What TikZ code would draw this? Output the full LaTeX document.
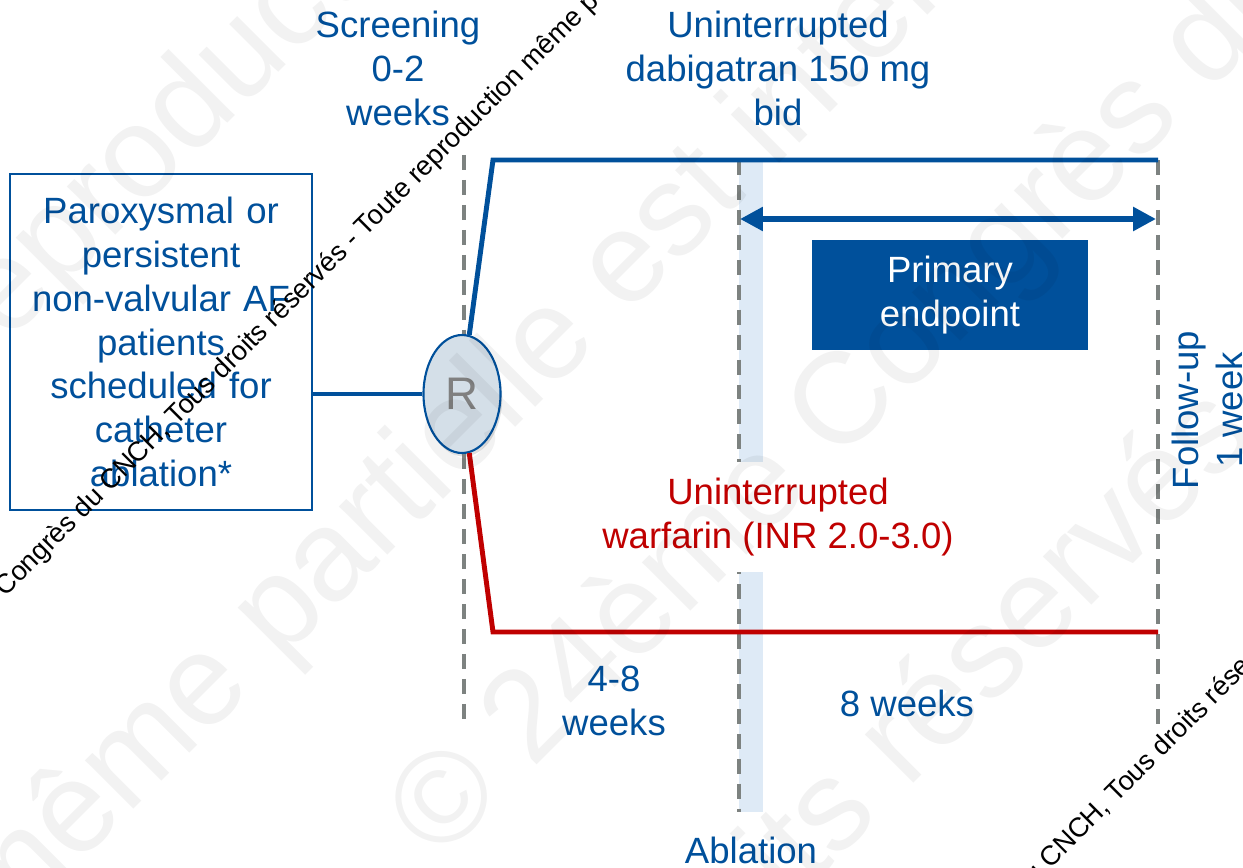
\documentclass[tikz,border=0pt]{standalone}
\usepackage{fontspec}
\setmainfont{Liberation Sans}
\usetikzlibrary{arrows.meta,shapes.geometric,shadows}

\definecolor{trialblue}{RGB}{0,80,155}
\definecolor{trialred}{RGB}{192,0,0}
\definecolor{dashgray}{RGB}{125,130,128}
\definecolor{barblue}{RGB}{222,234,246}
\definecolor{rfill}{RGB}{212,223,232}
\definecolor{rgray}{RGB}{128,128,128}

\tikzset{
    lbl/.style={text=trialblue, font=\fontsize{20.8}{25}\selectfont, align=center, inner sep=0pt},
    guide/.style={dashgray, line width=2.3pt, dash pattern=on 8.5pt off 5.7pt},
    arm/.style={line width=2.8pt},
    wmark/.style={rotate=45, anchor=base west, inner sep=0pt, text=black, font=\fontsize{15.5}{18}\selectfont},
    bigmark/.style={rotate=45, anchor=base west, inner sep=0pt, text=black, text opacity=0.05, font=\fontsize{73.7}{80}\selectfont},
}

\begin{document}
\begin{tikzpicture}[x=0.02cm,y=-0.02cm]
    \def\pxu{0.02cm}
    \useasboundingbox (0,0) rectangle (1243,868);
    \begin{scope}
    \clip (0,0) rectangle (1243,868);
    % ablation bar and time marks
    \fill[barblue] (739,160) rectangle (763,812);
    \foreach \x/\ytop/\ybot in {464/155/728, 739/160/812, 1158/160/728}{
        \draw[guide] (\x,\ytop) -- (\x,\ybot);
    }
    % patients and randomisation
    \node[lbl, draw=trialblue, line width=1.1pt, fill=white, minimum width=302*\pxu, minimum height=336*\pxu, text width=290*\pxu] (pat) at (161,342)
        {Paroxysmal or\\persistent\\non-valvular AF\\patients\\scheduled for\\catheter\\ablation*};
    \coordinate (dabi-c) at (493,160);
    \coordinate (dabi-e) at (1158,160);
    \coordinate (warf-c) at (493,632);
    \coordinate (warf-e) at (1158,632);
    \node[ellipse, draw=trialblue, line width=1.2pt, fill=rfill, minimum width=77*\pxu, minimum height=118*\pxu, inner sep=0pt, text=rgray, font=\fontsize{26}{30}\selectfont,
        drop shadow={opacity=0.25, shadow xshift=1pt, shadow yshift=-2pt}] (rnd) at (462,394) {R};
    \draw[trialblue, line width=2pt] (pat.east |- rnd.west) -- (rnd.west);
    \draw[arm, trialblue] (rnd.83) -- (dabi-c) -- (dabi-e);
    \draw[arm, trialred] (rnd.-83) -- (warf-c) -- (warf-e);
    % labels
    \node[lbl, anchor=north] (scr) at (398,11) {Screening\\0-2\\weeks};
    \node[lbl, anchor=north] (dabi) at (778,11) {Uninterrupted\\dabigatran 150 mg\\bid};
    \node[lbl, text=trialred, fill=white, minimum height=110*\pxu, inner xsep=5pt] (warf) at (778,517) {Uninterrupted\\warfarin (INR 2.0-3.0)};
    \node[lbl, fill=trialblue, text=white, minimum width=276*\pxu, minimum height=110*\pxu] (pep) at (950,295) {Primary\\endpoint};
    \coordinate (pe-l) at (740,219);
    \coordinate (pe-r) at (1156,219);
    \draw[trialblue, line width=3.2pt, {Triangle[length=13pt,width=13pt]}-{Triangle[length=13pt,width=13pt]}] (pe-l) -- (pe-r);
    \node[lbl] (wk48) at (614,701) {4-8\\weeks};
    \node[lbl] (wk8) at (907,703) {8 weeks};
    \node[lbl] (abl) at (751,850) {Ablation};
    \node[lbl, rotate=90] (fup) at (1207,410) {Follow-up\\1 week};
    % watermark
    \node[bigmark] (wm1) at (-23,374) {\llap{Congrès du CNCH, Tous droits réservés - Toute }reproduction même partielle est interdite};
    \node[bigmark] (wm2) at (280,663) {\llap{Toute reproduction même }partielle est interdite};
    \node[bigmark] (wm3) at (439,863) {© 24ème Congrès du CNCH, Tous droits réservés};
    \node[bigmark] (wm4) at (907,790) {\llap{Tous droits }réservés - Toute reproduction};
    \node[wmark] (wm5) at (5,598) {\llap{© 24ème }Congrès du CNCH, Tous droits réservés - Toute reproduction même partielle est interdite};
    \node[wmark] (wm6) at (1050,870) {\llap{© 24ème Congrès du }CNCH, Tous droits réservés - Toute reproduction};
    \end{scope}
\end{tikzpicture}
\end{document}
